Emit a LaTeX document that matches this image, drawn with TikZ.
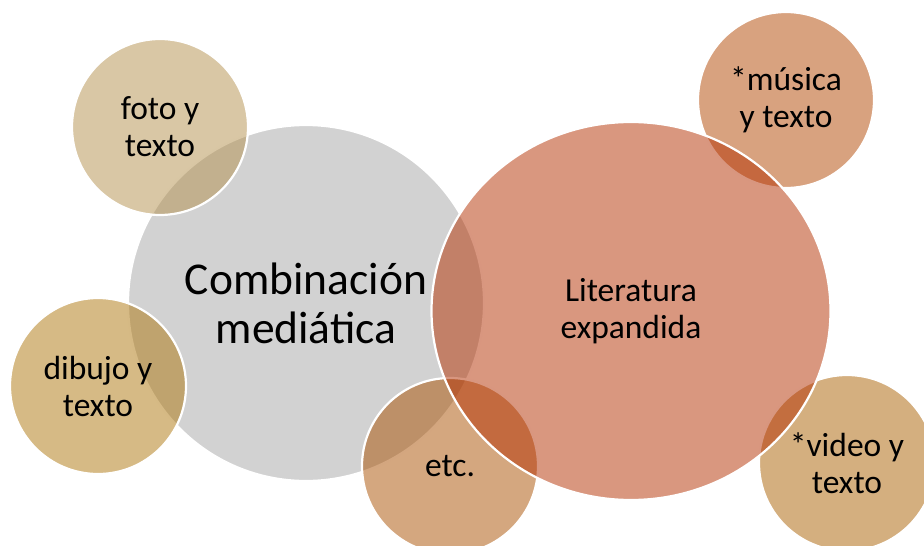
\documentclass[tikz,border=0pt]{standalone}
\usepackage{fontspec}
\setmainfont{Carlito}
\usepackage{tikz}
\usetikzlibrary{shapes.geometric}

\definecolor{greyfill}{RGB}{165,165,165}
\definecolor{fotofill}{RGB}{179,143,75}
\definecolor{dibujofill}{RGB}{173,117,11}
\definecolor{etcfill}{RGB}{169,79,0}
\definecolor{musicafill}{RGB}{177,69,0}
\definecolor{videofill}{RGB}{169,95,0}
\definecolor{litfill}{RGB}{179,47,0}

\begin{document}
\begin{tikzpicture}[x=1pt,y=-1pt,
	bubble/.style={circle,inner sep=0pt,minimum size=176pt,draw=white,line width=2.2pt,
		fill opacity=0.5,text opacity=1,align=center,font=\fontsize{33.5}{37}\selectfont}]
	\useasboundingbox (0,0) rectangle (924,546);
	\node[bubble,fill=greyfill,minimum size=356pt,font=\fontsize{45.5}{49}\selectfont] (comb) at (306,303) {Combinación\\mediática};
	\node[bubble,fill=fotofill] (foto) at (160,127) {foto y\\texto};
	\node[bubble,fill=dibujofill] (dibujo) at (98,386) {dibujo y\\texto};
	\node[bubble,fill=etcfill] (etc) at (450,466) {etc.};
	\node[bubble,fill=musicafill] (musica) at (786,100) {*música\\y texto};
	\node[bubble,fill=videofill] (video) at (847,463) {*video y\\texto};
	\node[bubble,ellipse,fill=litfill,minimum width=399pt,minimum height=378pt] (lit) at (631,311) {Literatura\\expandida};
\end{tikzpicture}
\end{document}
